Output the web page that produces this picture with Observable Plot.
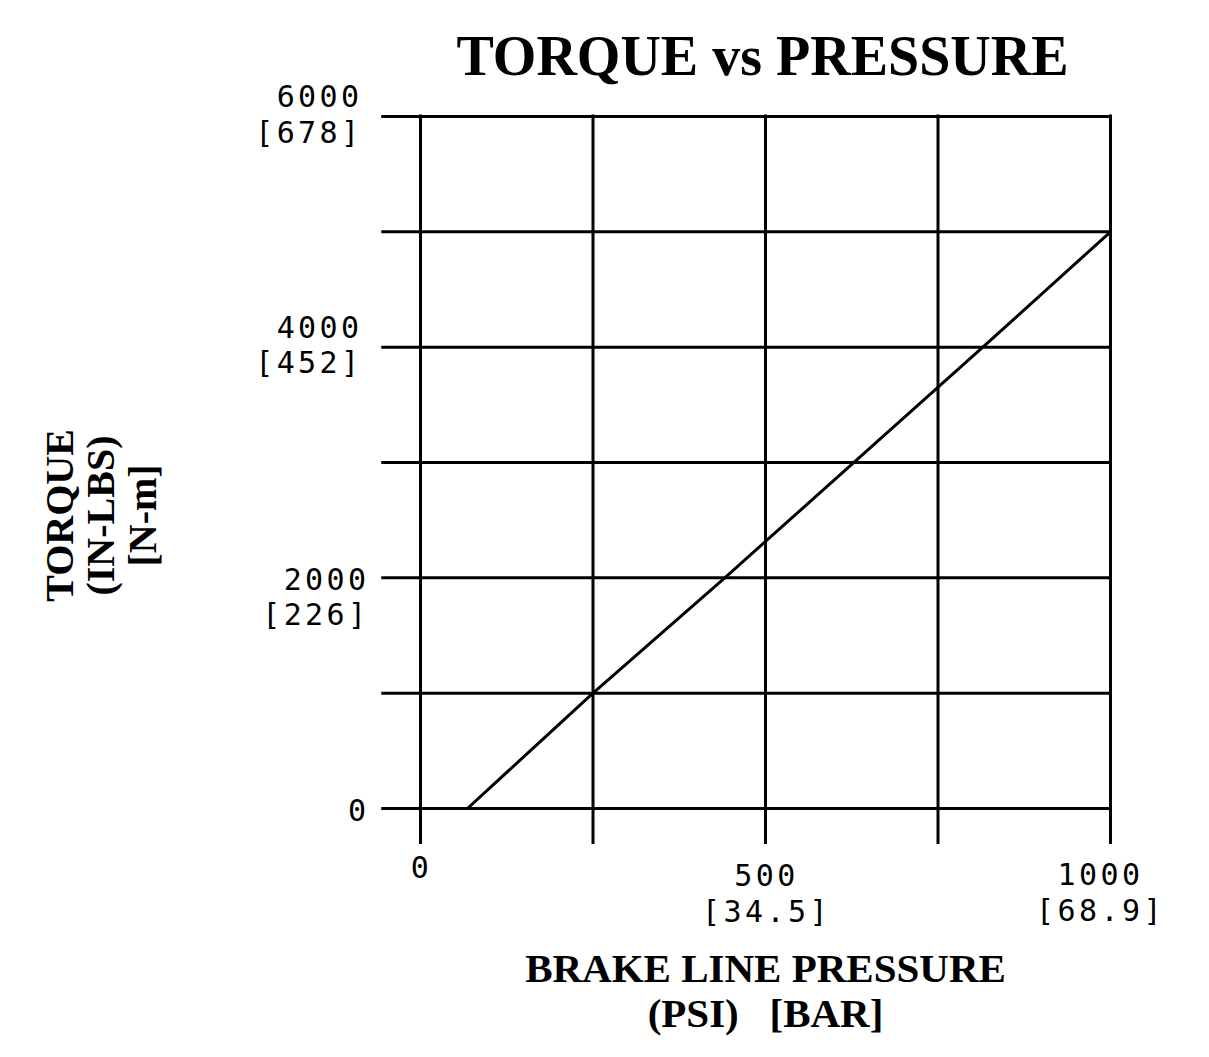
<!DOCTYPE html>
<html><head><meta charset="utf-8">
<script src="https://cdn.jsdelivr.net/npm/d3@7"></script>
<script src="https://cdn.jsdelivr.net/npm/@observablehq/plot@0.6"></script>
<style>html,body{margin:0;padding:0;background:#fff;} svg{display:block}</style>
</head><body><div id="chart"></div>
<script>
const pressurePsi = [68, 250, 441, 815, 1000];
const torqueInLbs = [0, 1000, 2000, 4000, 5000];
const xGridValues = [0, 250, 500, 750, 1000];
const yGridValues = [0, 1000, 2000, 3000, 4000, 5000, 6000];
const xTickValues = [0, 500, 1000];
const xTickPsi = ["0", "500", "1000"];
const xTickBar = ["", "[34.5]", "[68.9]"];
const yTickValues = [0, 2000, 4000, 6000];
const yTickInLbs = ["0", "2000", "4000", "6000"];
const yTickNm = ["", "[226]", "[452]", "[678]"];
const titleText = "TORQUE vs PRESSURE";
const xTitleLines = ["BRAKE LINE PRESSURE", "(PSI)\u00a0\u00a0\u00a0[BAR]"];
const yTitleLines = ["TORQUE", "(IN-LBS)", "[N-m]"];

const curve = pressurePsi.map((p, i) => ({p, t: torqueInLbs[i]}));
const xTicks = xTickValues.map((v, i) => ({v, label: xTickBar[i] ? xTickPsi[i] + "\n" + xTickBar[i] : xTickPsi[i]}));
const yTicks = yTickValues.map((v, i) => ({v, label: yTickNm[i] ? yTickInLbs[i] + "\n" + yTickNm[i] : yTickInLbs[i]}));

const MONO = "DejaVu Sans Mono";
const SERIF = "Liberation Serif";
const tickStyle = {fontFamily: MONO, fontSize: 30, fill: "black", lineAnchor: "bottom", lineHeight: 1.17};

const chart = Plot.plot({
  width: 1209,
  height: 1057,
  marginLeft: 420,
  marginRight: 99,
  marginTop: 116,
  marginBottom: 249,
  x: {domain: [0, 1000], axis: null},
  y: {domain: [0, 6000], axis: null},
  style: {background: "white"},
  marks: [
    Plot.ruleY(yGridValues, {x1: -54, x2: 1000, stroke: "black", strokeWidth: 3, strokeLinecap: "square"}),
    Plot.ruleX(xGridValues, {y1: -300, y2: 6000, stroke: "black", strokeWidth: 3, strokeLinecap: "square"}),
    Plot.line(curve, {x: "p", y: "t", stroke: "black", strokeWidth: 3}),
    // y tick labels
    Plot.text(yTicks, {filter: d => d.v >= 4000, x: () => 0, y: "v", text: "label", textAnchor: "end", dx: -58, dy: 26, ...tickStyle}),
    Plot.text(yTicks, {filter: d => d.v === 2000, x: () => 0, y: "v", text: "label", textAnchor: "end", dx: -51, dy: 47, ...tickStyle}),
    Plot.text(yTicks, {filter: d => d.v === 0, x: () => 0, y: "v", text: "label", textAnchor: "end", dx: -51, dy: 12, ...tickStyle}),
    // x tick labels
    Plot.text(xTicks, {filter: d => d.v === 0, x: "v", y: () => 0, text: "label", textAnchor: "middle", dx: 1, dy: 69, ...tickStyle}),
    Plot.text(xTicks, {filter: d => d.v === 500, x: "v", y: () => 0, text: "label", textAnchor: "middle", dx: 1, dy: 113, ...tickStyle}),
    Plot.text(xTicks, {filter: d => d.v === 1000, x: "v", y: () => 0, text: "label", textAnchor: "middle", dx: -10, dy: 112, ...tickStyle}),
    // titles
    Plot.text([titleText], {frameAnchor: "top", lineAnchor: "bottom", textAnchor: "middle", dx: -3, dy: -42, fontFamily: SERIF, fontWeight: "bold", fontSize: 56, fill: "black"}),
    Plot.text([xTitleLines.join("\n")], {frameAnchor: "bottom", lineAnchor: "bottom", textAnchor: "middle", dy: 218, lineHeight: 1.08, fontFamily: SERIF, fontWeight: "bold", fontSize: 41, fill: "black"}),
    Plot.text([yTitleLines.join("\n")], {frameAnchor: "left", lineAnchor: "bottom", textAnchor: "middle", rotate: -90, dx: -265, dy: 53, lineHeight: 1.03, fontFamily: SERIF, fontWeight: "bold", fontSize: 40, fill: "black"})
  ]
});
d3.select(chart).selectAll(`g[font-family="${MONO}"]`).attr("letter-spacing", "3.4");
document.getElementById("chart").appendChild(chart);
</script>
</body></html>
